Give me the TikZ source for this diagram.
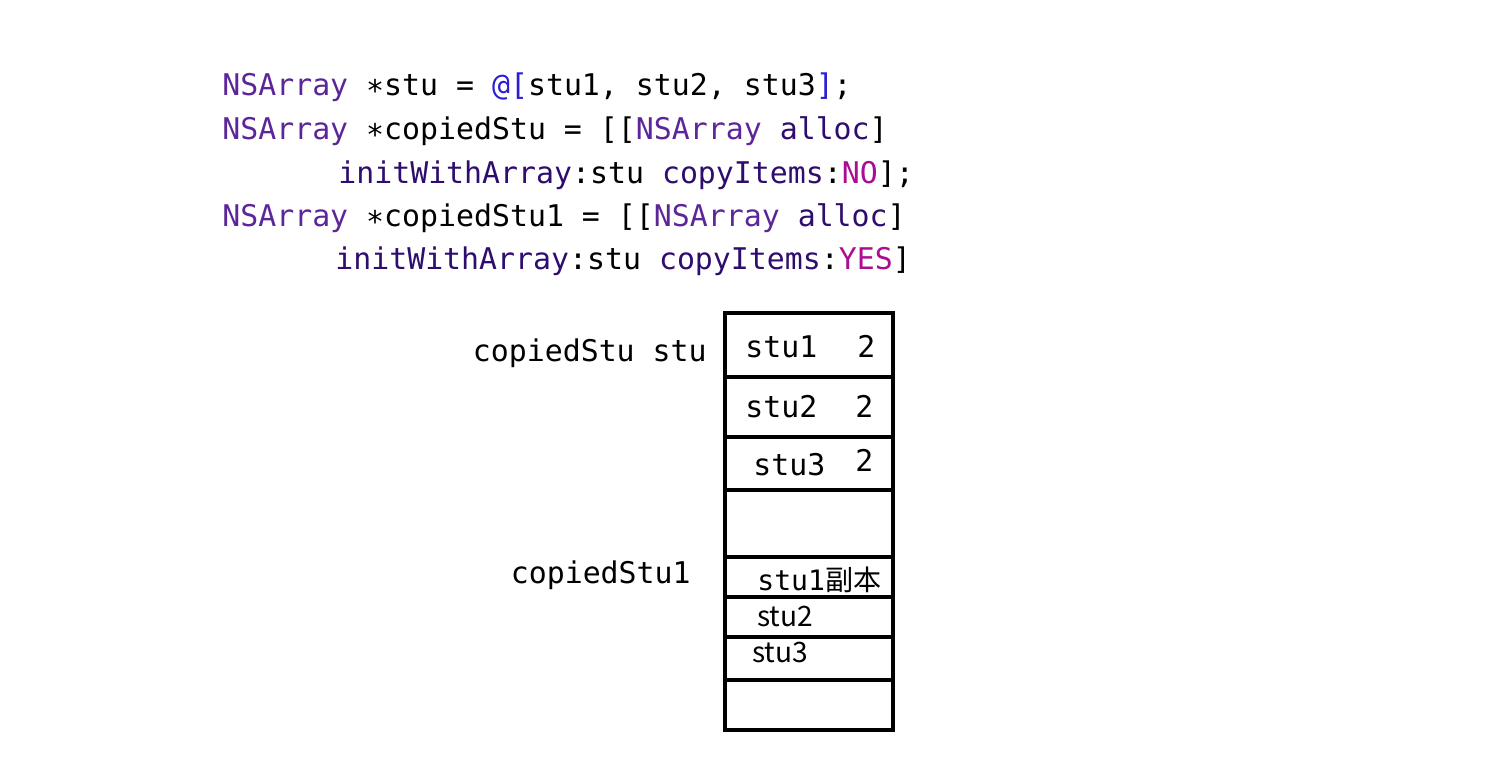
\documentclass[tikz,border=0pt]{standalone}
\usepackage{fontspec}
\setmonofont{DejaVu Sans Mono}
\newfontfamily\cjk{Noto Sans CJK SC}
\definecolor{clsname}{HTML}{5C2699}
\definecolor{method}{HTML}{2E0D6E}
\definecolor{keyw}{HTML}{AA0D91}
\definecolor{lit}{HTML}{2C1ED0}
\begin{document}
\begin{tikzpicture}%
  [x=0.02cm,y=-0.02cm,
   code/.style={anchor=base west,inner sep=0pt,font=\ttfamily\fontsize{17}{20}\selectfont},
   thin/.style={anchor=base west,inner sep=0pt,font=\cjk\fontsize{16}{19}\selectfont},
   cell/.style={line width=0.08cm},
  ]
\useasboundingbox (0,0) rectangle (1500,768);

% code
\node[code] (c1) at (222,95)  {\textcolor{clsname}{NSArray} ∗stu = \textcolor{lit}{@[}stu1, stu2, stu3\textcolor{lit}{]};};
\node[code] (c2) at (222,139) {\textcolor{clsname}{NSArray} ∗copiedStu = [[\textcolor{clsname}{NSArray} \textcolor{method}{alloc}]};
\node[code] (c3) at (338,183) {\textcolor{method}{initWithArray}:stu \textcolor{method}{copyItems}:\textcolor{keyw}{NO}];};
\node[code] (c4) at (222,226) {\textcolor{clsname}{NSArray} ∗copiedStu1 = [[\textcolor{clsname}{NSArray} \textcolor{method}{alloc}]};
\node[code] (c5) at (335,269) {\textcolor{method}{initWithArray}:stu \textcolor{method}{copyItems}:\textcolor{keyw}{YES}]};

% pointers
\node[code,anchor=base east] (p1) at (707,361) {copiedStu stu};
\node[code,anchor=base east] (p2) at (691,583) {copiedStu1};

% memory
\draw[cell] (725,313) rectangle (893,730);
\draw[cell] (725,377) -- (893,377)
            (725,437) -- (893,437)
            (725,490) -- (893,490)
            (725,557) -- (893,557)
            (725,597) -- (893,597)
            (725,637) -- (893,637)
            (725,680) -- (893,680);

\node[code] (m1) at (745,357) {stu1};
\node[code] (r1) at (857,357) {2};
\node[code] (m2) at (745,417) {stu2};
\node[code] (r2) at (855,417) {2};
\node[code] (m3) at (753,475) {stu3};
\node[code] (r3) at (855,471) {2};
\node[code,font=\ttfamily\fontsize{16}{19}\selectfont] (m4) at (757,590) {stu1{\cjk 副本}};
\node[thin] (m5) at (757,626) {stu2};
\node[thin] (m6) at (752,662) {stu3};
\end{tikzpicture}
\end{document}
